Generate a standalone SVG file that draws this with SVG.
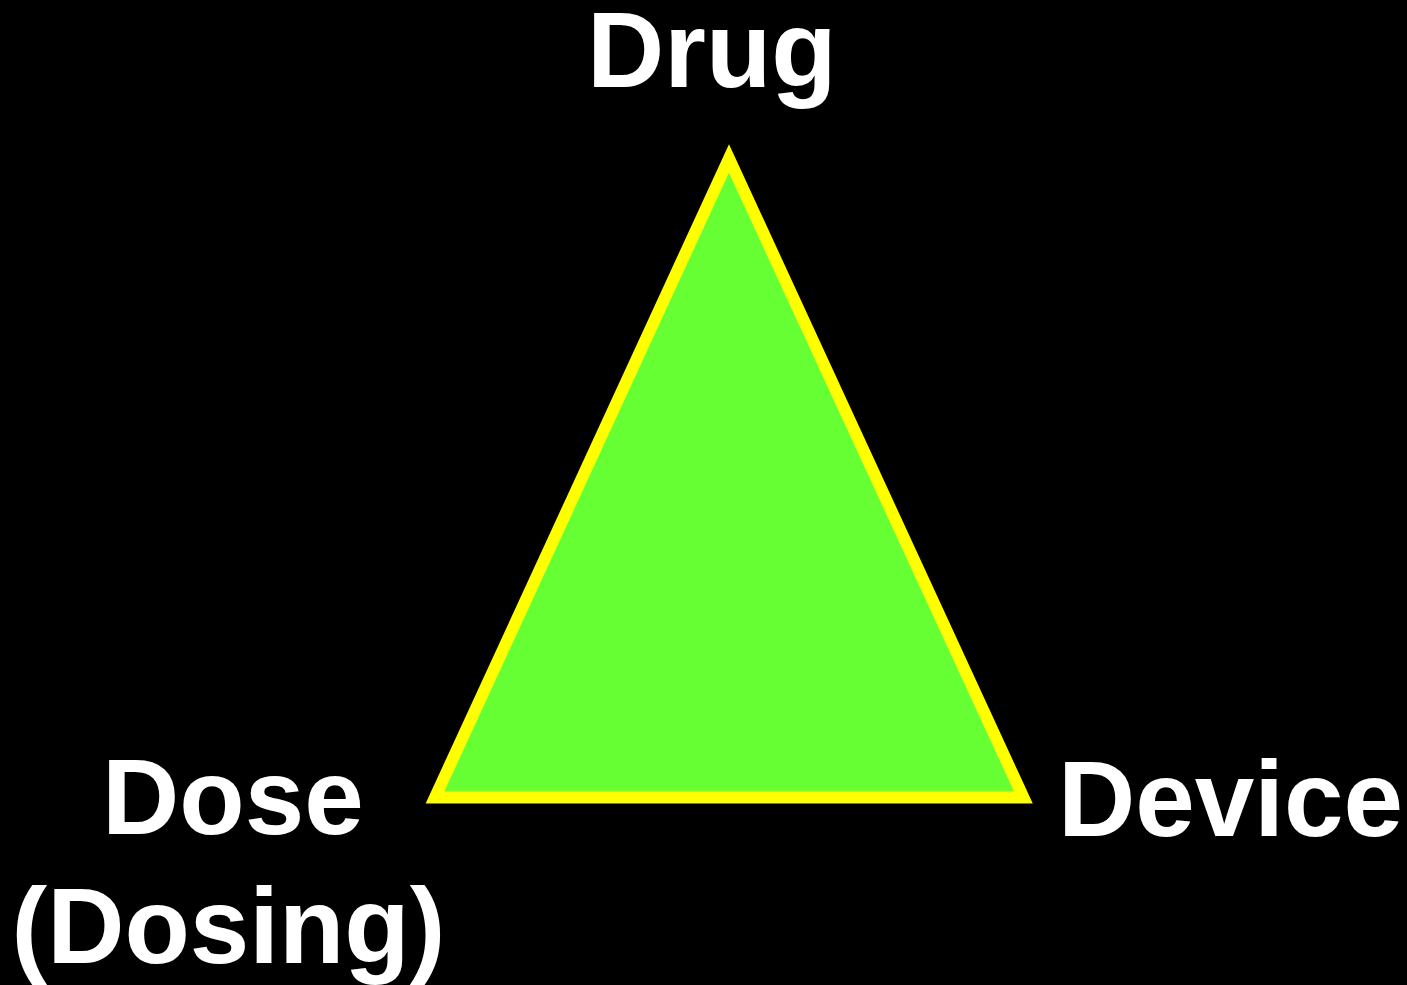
<svg xmlns="http://www.w3.org/2000/svg" width="1407" height="985" viewBox="0 0 1407 985">
<style>
.lbl{font-family:"Liberation Sans",Arial,sans-serif;font-weight:bold;font-size:107px;fill:#ffffff}
</style>
<rect width="1407" height="985" fill="#000000"/>
<g id="triangle">
<polygon points="729,158.5 1023.4,797.5 435,797.5" fill="#66ff33" stroke="#ffff00" stroke-width="12" stroke-miterlimit="10"/>
</g>
<g id="drug"><text class="lbl" x="587" y="87">Drug</text></g>
<g id="dose"><text class="lbl" x="102" y="834">Dose</text><text class="lbl" x="11.5" y="963">(Dosing)</text></g>
<g id="device"><text class="lbl" x="1058" y="836">Device</text></g>
</svg>
